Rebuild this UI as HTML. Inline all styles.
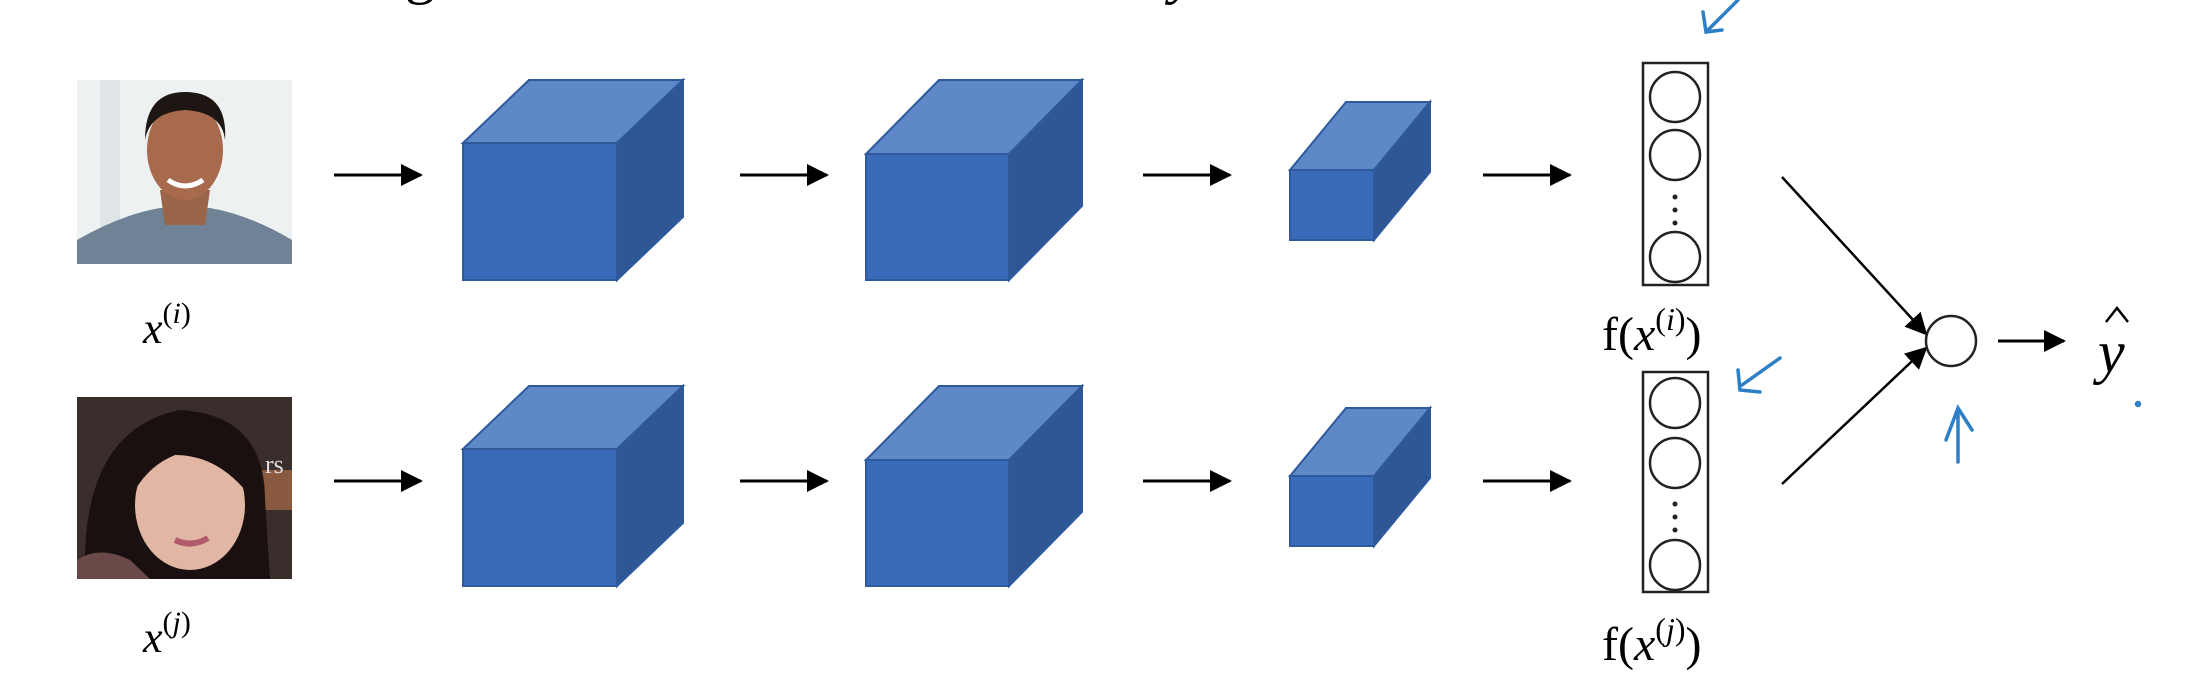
<!DOCTYPE html>
<html><head><meta charset="utf-8"><style>
html,body{margin:0;padding:0;background:#fff;}
svg{display:block;}
text{font-family:"Liberation Serif",serif;}
</style></head><body>
<svg width="2198" height="698" viewBox="0 0 2198 698">
<defs>
<marker id="ahb" markerWidth="22" markerHeight="22" refX="20" refY="11" orient="auto" markerUnits="userSpaceOnUse">
<path d="M0,0 L22,11 L0,22 z" fill="#000"/></marker>
</defs>
<text x="405" y="-8" font-size="60">g</text>
<text x="1170" y="-8" font-size="60" font-style="italic">y</text>

<!-- photo 1 -->
<g>
<rect x="77" y="80" width="215" height="184" fill="#eef1f1"/>
<rect x="100" y="80" width="20" height="184" fill="#dfe5e6"/>
<path d="M77,264 L77,240 Q120,215 160,208 L210,208 Q250,215 292,240 L292,264 z" fill="#6f8296"/>
<path d="M160,190 L210,190 L205,225 L165,225 z" fill="#9a6448"/>
<ellipse cx="185" cy="150" rx="38" ry="50" fill="#a86a4c"/>
<path d="M145,140 Q145,92 185,92 Q228,92 225,140 Q222,112 185,110 Q150,112 145,140 z" fill="#1e1612"/>
<path d="M168,180 Q185,192 203,180" stroke="#fff" stroke-width="5" fill="none"/>
</g>
<text x="143" y="343" font-size="44" font-style="italic">x<tspan font-size="30" dy="-20" font-style="normal">(</tspan><tspan font-size="30" font-style="italic">i</tspan><tspan font-size="30" font-style="normal">)</tspan></text>

<!-- photo 2 -->
<g>
<rect x="77" y="397" width="215" height="182" fill="#3a2e2c"/>
<rect x="230" y="470" width="62" height="40" fill="#8a5a40"/>
<text x="265" y="473" font-size="26" fill="#ddd" font-family="Liberation Sans, sans-serif">rs</text>
<path d="M85,579 Q80,430 180,410 Q265,415 265,500 L270,579 z" fill="#1a1010"/>
<ellipse cx="190" cy="505" rx="55" ry="65" fill="#e2b6a4"/>
<path d="M135,490 Q150,425 210,430 Q250,445 245,490 Q215,455 175,455 Q150,465 135,490 z" fill="#1a1010"/>
<path d="M175,540 Q192,548 208,538" stroke="#b05a6a" stroke-width="6" fill="none"/>
<path d="M77,579 L77,560 Q100,545 130,560 L150,579 z" fill="#6a4a48"/>
</g>
<text x="143" y="652" font-size="44" font-style="italic">x<tspan font-size="30" dy="-20" font-style="normal">(</tspan><tspan font-size="30" font-style="italic">j</tspan><tspan font-size="30" font-style="normal">)</tspan></text>

<g id="rows"></g>

<!-- embedding vectors -->
<g stroke="#222" stroke-width="2.5" fill="none">
<rect x="1643" y="63" width="65" height="222"/>
<circle cx="1675" cy="97" r="25"/><circle cx="1675" cy="155" r="25"/><circle cx="1675" cy="257" r="25"/>
</g>
<g fill="#222"><circle cx="1675" cy="197" r="2.5"/><circle cx="1675" cy="210" r="2.5"/><circle cx="1675" cy="223" r="2.5"/></g>
<text x="1602" y="350" font-size="48">f(<tspan font-style="italic">x</tspan><tspan font-size="32" dy="-20">(</tspan><tspan font-size="32" font-style="italic">i</tspan><tspan font-size="32">)</tspan><tspan dy="20">)</tspan></text>
<g stroke="#222" stroke-width="2.5" fill="none">
<rect x="1643" y="372" width="65" height="220"/>
<circle cx="1675" cy="403" r="25"/><circle cx="1675" cy="463" r="25"/><circle cx="1675" cy="565" r="25"/>
</g>
<g fill="#222"><circle cx="1675" cy="504" r="2.5"/><circle cx="1675" cy="517" r="2.5"/><circle cx="1675" cy="530" r="2.5"/></g>
<text x="1602" y="660" font-size="48">f(<tspan font-style="italic">x</tspan><tspan font-size="32" dy="-20">(</tspan><tspan font-size="32" font-style="italic">j</tspan><tspan font-size="32">)</tspan><tspan dy="20">)</tspan></text>

<!-- combine -->
<line x1="1782" y1="177" x2="1926" y2="334" stroke="#000" stroke-width="2.5" marker-end="url(#ahb)"/>
<line x1="1782" y1="484" x2="1926" y2="348" stroke="#000" stroke-width="2.5" marker-end="url(#ahb)"/>
<circle cx="1951" cy="341" r="25" fill="none" stroke="#222" stroke-width="2.5"/>
<line x1="1998" y1="341" x2="2064" y2="341" stroke="#000" stroke-width="3" marker-end="url(#ahb)"/>
<text x="2098" y="372" font-size="60" font-style="italic">y</text>
<path d="M2106,322 L2117,308 L2128,322" stroke="#000" stroke-width="2.5" fill="none"/>

<!-- blue annotations -->
<g stroke="#2d7fc8" stroke-width="3.5" fill="none" stroke-linecap="round">
<path d="M1738,0 L1708,30 M1703,12 L1706,32 L1722,30"/>
<path d="M1780,358 L1742,385 M1738,370 L1740,390 L1760,392"/>
<path d="M1958,462 L1958,410 M1946,440 L1958,408 L1972,430"/>
<circle cx="2138" cy="404" r="1.5"/>
</g>
</svg>
<script>
const rowYs = [175, 481];
const cubeFronts = [[463,143,617,280],[866,154,1009,280],[1290,170,1374,240]];
const cubeDepth = [[66,63],[73,74],[56,68]];
const arrowXs = [[334,421],[740,827],[1143,1230],[1483,1570]];
const NS='http://www.w3.org/2000/svg';
const g=document.getElementById('rows');
rowYs.forEach((ry,ri)=>{
  const off = ry-rowYs[0];
  cubeFronts.forEach((c,ci)=>{
    const [x1,y1,x2,y2]=c.map((v,k)=>k%2?v+off:v);
    const [dx,dy]=cubeDepth[ci];
    const grp=document.createElementNS(NS,'g');
    
    
    const faces=[
      [`${x1},${y1} ${x1+dx},${y1-dy} ${x2+dx},${y1-dy} ${x2},${y1}`,'#5f88c8'],
      [`${x2},${y1} ${x2+dx},${y1-dy} ${x2+dx},${y2-dy} ${x2},${y2}`,'#2f5796'],
      [`${x1},${y1} ${x2},${y1} ${x2},${y2} ${x1},${y2}`,'#3a6bba']];
    faces.forEach(f=>{const p=document.createElementNS(NS,'polygon');p.setAttribute('points',f[0]);p.setAttribute('fill',f[1]);p.setAttribute('stroke','#2e5a9c');p.setAttribute('stroke-width','2');grp.appendChild(p);});
    g.appendChild(grp);
  });
  arrowXs.forEach((a,ai)=>{
    const l=document.createElementNS(NS,'line');
    
    
    l.setAttribute('x1',a[0]);l.setAttribute('x2',a[1]);l.setAttribute('y1',ry);l.setAttribute('y2',ry);
    l.setAttribute('stroke','#000');l.setAttribute('stroke-width','3');l.setAttribute('marker-end','url(#ahb)');
    g.appendChild(l);
  });
});
</script>
</body></html>
